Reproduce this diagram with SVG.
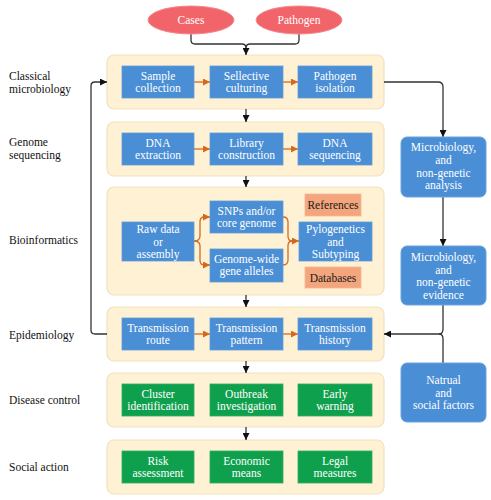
<svg xmlns="http://www.w3.org/2000/svg" width="491" height="500" viewBox="0 0 491 500">
<defs>
<marker id="ab" viewBox="0 0 10 10" refX="10" refY="5" markerWidth="7" markerHeight="7" orient="auto" markerUnits="userSpaceOnUse"><path d="M0,0 L10,5 L0,10 z" fill="#111"/></marker>
<marker id="ao" viewBox="0 0 10 10" refX="10" refY="5" markerWidth="7" markerHeight="7" orient="auto" markerUnits="userSpaceOnUse"><path d="M0,0 L10,5 L0,10 z" fill="#d4691c"/></marker>
<style>
.panel{fill:#fff1d4;stroke:#f1e2bf;stroke-width:1.2}
.b{fill:#4a8ed5;stroke:#5f9cdc;stroke-width:0.8}
.g{fill:#0fa04e;stroke:#2aae62;stroke-width:0.8}
.o{fill:#f3a57d;stroke:#f6b694;stroke-width:0.8}
.rb{fill:#4a8ed5;stroke:#6aa3de;stroke-width:1}
.el{fill:#f1646a;stroke:#f58a8e;stroke-width:1}
text{font-family:'Liberation Serif','Times New Roman',Times,'DejaVu Serif',serif;font-size:11.5px}
.t{fill:#fff;text-anchor:middle}
.tk{fill:#1a1a1a;text-anchor:middle}
.lb{fill:#111}
.c{fill:none;stroke:#333;stroke-width:1.3}
.co{fill:none;stroke:#d4691c;stroke-width:1.3}
</style>
</defs>

<g id="labels">
<text class="lb" x="9" y="80">Classical</text>
<text class="lb" x="9" y="93">microbiology</text>
<text class="lb" x="9" y="146">Genome</text>
<text class="lb" x="9" y="159">sequencing</text>
<text class="lb" x="9" y="244">Bioinformatics</text>
<text class="lb" x="9" y="339">Epidemiology</text>
<text class="lb" x="9" y="404">Disease control</text>
<text class="lb" x="9" y="471">Social action</text>
</g>

<g id="panels">
<rect id="panel-classical" class="panel" x="107" y="55" width="277" height="54" rx="7"/>
<rect id="panel-genome" class="panel" x="107" y="122" width="277" height="54" rx="7"/>
<rect id="panel-bioinf" class="panel" x="107" y="187" width="277" height="108" rx="7"/>
<rect id="panel-epi" class="panel" x="107" y="307" width="277" height="54" rx="7"/>
<rect id="panel-disease" class="panel" x="107" y="373" width="277" height="54" rx="7"/>
<rect id="panel-social" class="panel" x="107" y="440" width="277" height="54" rx="7"/>
</g>

<g id="connectors">
<path class="c" d="M191,34 V40 Q191,44 195,44 H242 Q246,44 246,48 V55" marker-end="url(#ab)"/>
<path class="c" d="M299,34 V40 Q299,44 295,44 H250 Q246,44 246,48"/>
<path class="c" d="M246,109 V122" marker-end="url(#ab)"/>
<path class="c" d="M246,176 V187" marker-end="url(#ab)"/>
<path class="c" d="M246,295 V307" marker-end="url(#ab)"/>
<path class="c" d="M246,361 V373" marker-end="url(#ab)"/>
<path class="c" d="M246,427 V440" marker-end="url(#ab)"/>
<path class="c" d="M384,82 H438 Q443,82 443,87 V137" marker-end="url(#ab)"/>
<path class="c" d="M443,197 V246" marker-end="url(#ab)"/>
<path class="c" d="M443,305 V329 Q443,334 439,334"/>
<path class="c" d="M443,363 V339 Q443,334 439,334"/>
<path class="c" d="M439,334 H384" marker-end="url(#ab)"/>
<path class="c" d="M107,334 H95 Q91,334 91,330 V86 Q91,82 95,82 H107" marker-end="url(#ab)"/>
<path class="co" d="M194,82 H210" marker-end="url(#ao)"/>
<path class="co" d="M283,82 H298" marker-end="url(#ao)"/>
<path class="co" d="M194,149 H210" marker-end="url(#ao)"/>
<path class="co" d="M283,149 H298" marker-end="url(#ao)"/>
<path class="co" d="M194,334 H210" marker-end="url(#ao)"/>
<path class="co" d="M283,334 H298" marker-end="url(#ao)"/>
<path class="co" d="M194,241 Q200,241 200,236 V222 Q200,217 204,217 H210" marker-end="url(#ao)"/>
<path class="co" d="M194,241 Q200,241 200,246 V260 Q200,265 204,265 H210" marker-end="url(#ao)"/>
<path class="co" d="M283,217 Q288,217 288,222 V236 Q288,241 292,241 H299" marker-end="url(#ao)"/>
<path class="co" d="M283,265 Q288,265 288,260 V246 Q288,241 292,241"/>
</g>

<g id="cases"><ellipse class="el" cx="191" cy="20" rx="43" ry="14"/><text class="t" x="191" y="24">Cases</text></g>
<g id="pathogen"><ellipse class="el" cx="299" cy="20" rx="43" ry="14"/><text class="t" x="299" y="24">Pathogen</text></g>

<g id="sample-collection"><rect class="b" x="122" y="66" width="72" height="32"/><text class="t" x="158" y="79.5">Sample</text><text class="t" x="158" y="92">collection</text></g>
<g id="selective-culturing"><rect class="b" x="210" y="66" width="73" height="32"/><text class="t" x="246.5" y="79.5">Sellective</text><text class="t" x="246.5" y="92">culturing</text></g>
<g id="pathogen-isolation"><rect class="b" x="298" y="66" width="74" height="32"/><text class="t" x="335" y="79.5">Pathogen</text><text class="t" x="335" y="92">isolation</text></g>

<g id="dna-extraction"><rect class="b" x="122" y="133" width="72" height="32"/><text class="t" x="158" y="146.5">DNA</text><text class="t" x="158" y="159">extraction</text></g>
<g id="library-construction"><rect class="b" x="210" y="133" width="73" height="32"/><text class="t" x="246.5" y="146.5">Library</text><text class="t" x="246.5" y="159">construction</text></g>
<g id="dna-sequencing"><rect class="b" x="298" y="133" width="74" height="32"/><text class="t" x="335" y="146.5">DNA</text><text class="t" x="335" y="159">sequencing</text></g>

<g id="raw-data"><rect class="b" x="122" y="222" width="72" height="39"/><text class="t" x="158" y="233">Raw data</text><text class="t" x="158" y="245.5">or</text><text class="t" x="158" y="258">assembly</text></g>
<g id="snps"><rect class="b" x="210" y="201" width="73" height="32"/><text class="t" x="246.5" y="214.5">SNPs and/or</text><text class="t" x="246.5" y="227">core genome</text></g>
<g id="genome-wide"><rect class="b" x="210" y="249" width="73" height="33"/><text class="t" x="246.5" y="262.5">Genome-wide</text><text class="t" x="246.5" y="275">gene alleles</text></g>
<g id="references"><rect class="o" x="305" y="194" width="56" height="22"/><text class="tk" x="333" y="209">References</text></g>
<g id="pylogenetics"><rect class="b" x="299" y="222" width="73" height="39"/><text class="t" x="335.5" y="233">Pylogenetics</text><text class="t" x="335.5" y="245.5">and</text><text class="t" x="335.5" y="258">Subtyping</text></g>
<g id="databases"><rect class="o" x="305" y="267" width="56" height="21"/><text class="tk" x="333" y="281.5">Databases</text></g>

<g id="transmission-route"><rect class="b" x="122" y="318" width="72" height="32"/><text class="t" x="158" y="331.5">Transmission</text><text class="t" x="158" y="344">route</text></g>
<g id="transmission-pattern"><rect class="b" x="210" y="318" width="73" height="32"/><text class="t" x="246.5" y="331.5">Transmission</text><text class="t" x="246.5" y="344">pattern</text></g>
<g id="transmission-history"><rect class="b" x="298" y="318" width="74" height="32"/><text class="t" x="335" y="331.5">Transmission</text><text class="t" x="335" y="344">history</text></g>

<g id="cluster-identification"><rect class="g" x="122" y="384" width="72" height="32"/><text class="t" x="158" y="397.5">Cluster</text><text class="t" x="158" y="410">identification</text></g>
<g id="outbreak-investigation"><rect class="g" x="210" y="384" width="73" height="32"/><text class="t" x="246.5" y="397.5">Outbreak</text><text class="t" x="246.5" y="410">investigation</text></g>
<g id="early-warning"><rect class="g" x="298" y="384" width="74" height="32"/><text class="t" x="335" y="397.5">Early</text><text class="t" x="335" y="410">warning</text></g>

<g id="risk-assessment"><rect class="g" x="122" y="451" width="72" height="32"/><text class="t" x="158" y="464.5">Risk</text><text class="t" x="158" y="477">assessment</text></g>
<g id="economic-means"><rect class="g" x="210" y="451" width="73" height="32"/><text class="t" x="246.5" y="464.5">Economic</text><text class="t" x="246.5" y="477">means</text></g>
<g id="legal-measures"><rect class="g" x="298" y="451" width="74" height="32"/><text class="t" x="335" y="464.5">Legal</text><text class="t" x="335" y="477">measures</text></g>

<g id="micro-analysis"><rect class="rb" x="401" y="137" width="85" height="60" rx="6"/><text class="t" x="443.5" y="151">Microbiology,</text><text class="t" x="443.5" y="164">and</text><text class="t" x="443.5" y="176.5">non-genetic</text><text class="t" x="443.5" y="189">analysis</text></g>
<g id="micro-evidence"><rect class="rb" x="401" y="246" width="85" height="59" rx="6"/><text class="t" x="443.5" y="261">Microbiology,</text><text class="t" x="443.5" y="273.5">and</text><text class="t" x="443.5" y="286">non-genetic</text><text class="t" x="443.5" y="298.5">evidence</text></g>
<g id="natural-social"><rect class="rb" x="401" y="363" width="85" height="59" rx="6"/><text class="t" x="443.5" y="384">Natrual</text><text class="t" x="443.5" y="396.5">and</text><text class="t" x="443.5" y="409">social factors</text></g>
</svg>
